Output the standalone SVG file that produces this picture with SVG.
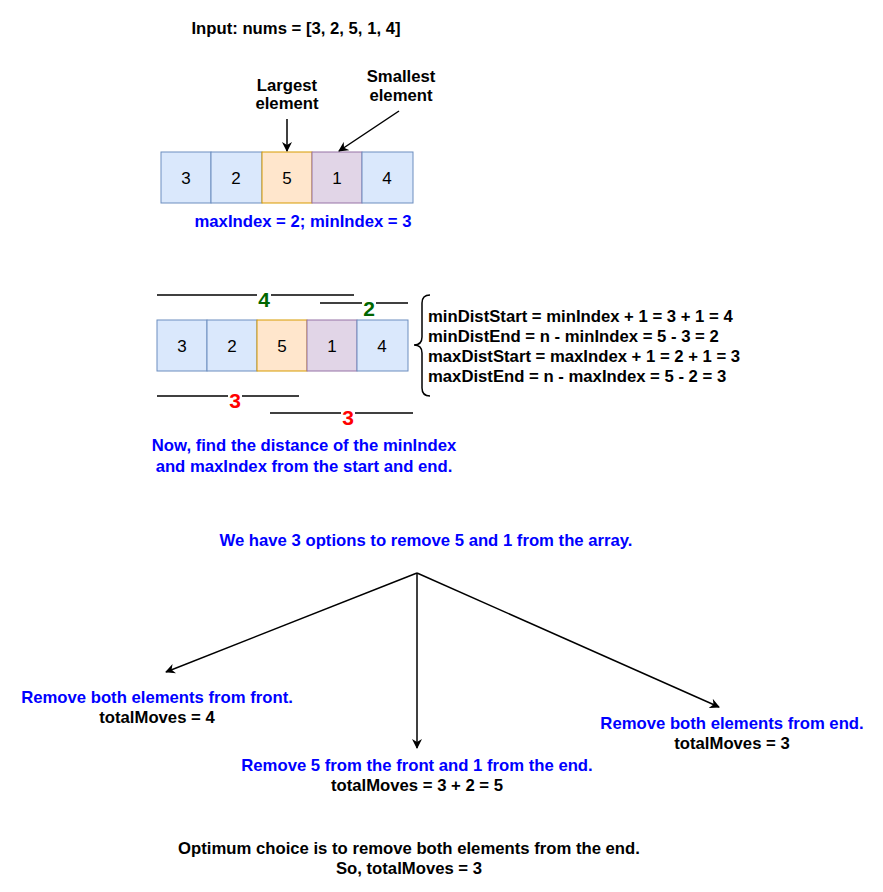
<svg xmlns="http://www.w3.org/2000/svg" width="883" height="892" viewBox="0 0 883 892">
<defs>
<style>
.t{font-family:"Liberation Sans",Arial,sans-serif;font-size:16.7px;font-weight:bold;fill:#000;text-anchor:middle}
.b{fill:#0000FF}
.cell{font-family:"Liberation Sans",Arial,sans-serif;font-size:17px;fill:#000;text-anchor:middle}
.blue{fill:#dae8fc;stroke:#6c8ebf;stroke-width:1}
.orange{fill:#ffe6cc;stroke:#d79b00;stroke-width:1}
.purple{fill:#e1d5e7;stroke:#9673a6;stroke-width:1}
.ln{stroke:#000;stroke-width:1.5;fill:none}
.num{font-family:"Liberation Sans",Arial,sans-serif;font-size:21px;font-weight:bold;text-anchor:middle}
.g{fill:#006600}
.r{fill:#FF0000}
.lft{text-anchor:start}
</style>
<marker id="ah" viewBox="0 0 10 10" refX="9" refY="5" markerWidth="10" markerHeight="10" markerUnits="userSpaceOnUse" orient="auto">
<path d="M0,0 L10,5 L0,10 L3,5 Z" fill="#000"/>
</marker>
</defs>
<rect width="883" height="892" fill="#fff"/>

<g id="title"><text class="t" x="296" y="34">Input: nums = [3, 2, 5, 1, 4]</text></g>

<g id="label-largest"><text class="t" x="287" y="91">Largest</text><text class="t" x="287" y="109">element</text></g>
<g id="label-smallest"><text class="t" x="401" y="82">Smallest</text><text class="t" x="401" y="101">element</text></g>

<g id="array1">
<rect class="blue" x="161" y="152" width="50" height="51"/>
<rect class="blue" x="211" y="152" width="51" height="51"/>
<rect class="orange" x="262" y="152" width="50" height="51"/>
<rect class="purple" x="312" y="152" width="50" height="51"/>
<rect class="blue" x="362" y="152" width="51" height="51"/>
<text class="cell" x="186" y="184">3</text>
<text class="cell" x="236" y="184">2</text>
<text class="cell" x="287" y="184">5</text>
<text class="cell" x="337" y="184">1</text>
<text class="cell" x="387" y="184">4</text>
</g>
<g id="label-index"><text class="t b" x="303" y="227">maxIndex = 2; minIndex = 3</text></g>

<g id="array2">
<rect class="blue" x="157" y="320" width="50" height="51"/>
<rect class="blue" x="207" y="320" width="50" height="51"/>
<rect class="orange" x="257" y="320" width="50" height="51"/>
<rect class="purple" x="307" y="320" width="50" height="51"/>
<rect class="blue" x="357" y="320" width="51" height="51"/>
<text class="cell" x="182" y="352">3</text>
<text class="cell" x="232" y="352">2</text>
<text class="cell" x="282" y="352">5</text>
<text class="cell" x="332" y="352">1</text>
<text class="cell" x="382" y="352">4</text>
</g>

<g id="distances">
<line class="ln" x1="157" y1="295" x2="354" y2="295"/>
<rect x="257" y="290" width="14" height="10" fill="#fff"/>
<text class="num g" x="264" y="307">4</text>
<line class="ln" x1="320" y1="303" x2="408" y2="303"/>
<rect x="362" y="298" width="14" height="10" fill="#fff"/>
<text class="num g" x="369" y="316">2</text>
<line class="ln" x1="157" y1="396" x2="299" y2="396"/>
<rect x="228" y="391" width="14" height="10" fill="#fff"/>
<text class="num r" x="235" y="408">3</text>
<line class="ln" x1="270" y1="413" x2="413" y2="413"/>
<rect x="341" y="408" width="14" height="10" fill="#fff"/>
<text class="num r" x="348" y="425">3</text>
</g>

<g id="brace">
<path class="ln" d="M430,295 Q422,295 422,303 L422,337 Q422,345 414,345 Q422,345 422,353 L422,388 Q422,396 430,396"/>
</g>
<g id="formulas">
<text class="t lft" x="428" y="322">minDistStart = minIndex + 1 = 3 + 1 = 4</text>
<text class="t lft" x="428" y="342">minDistEnd = n - minIndex = 5 - 3 = 2</text>
<text class="t lft" x="428" y="362">maxDistStart = maxIndex + 1 = 2 + 1 = 3</text>
<text class="t lft" x="428" y="382">maxDistEnd = n - maxIndex = 5 - 2 = 3</text>
</g>

<g id="note-distance">
<text class="t b" x="304" y="451">Now, find the distance of the minIndex</text>
<text class="t b" x="304" y="472">and maxIndex from the start and end.</text>
</g>

<g id="options-title"><text class="t b" x="426" y="546">We have 3 options to remove 5 and 1 from the array.</text></g>

<g id="option-front">
<text class="t b" x="157" y="703">Remove both elements from front.</text>
<text class="t" x="157" y="723">totalMoves = 4</text>
</g>
<g id="option-mixed">
<text class="t b" x="417" y="771">Remove 5 from the front and 1 from the end.</text>
<text class="t" x="417" y="791">totalMoves = 3 + 2 = 5</text>
</g>
<g id="option-end">
<text class="t b" x="732" y="729">Remove both elements from end.</text>
<text class="t" x="732" y="749">totalMoves = 3</text>
</g>

<g id="conclusion">
<text class="t" x="409" y="854">Optimum choice is to remove both elements from the end.</text>
<text class="t" x="409" y="874">So, totalMoves = 3</text>
</g>

<g id="connectors">
<line class="ln" x1="287" y1="119" x2="287" y2="151" marker-end="url(#ah)"/>
<line class="ln" x1="399" y1="111" x2="339" y2="151" marker-end="url(#ah)"/>
<line class="ln" x1="417" y1="573" x2="166" y2="672" marker-end="url(#ah)"/>
<line class="ln" x1="417" y1="573" x2="417" y2="748" marker-end="url(#ah)"/>
<line class="ln" x1="417" y1="573" x2="719" y2="707" marker-end="url(#ah)"/>
</g>
</svg>
